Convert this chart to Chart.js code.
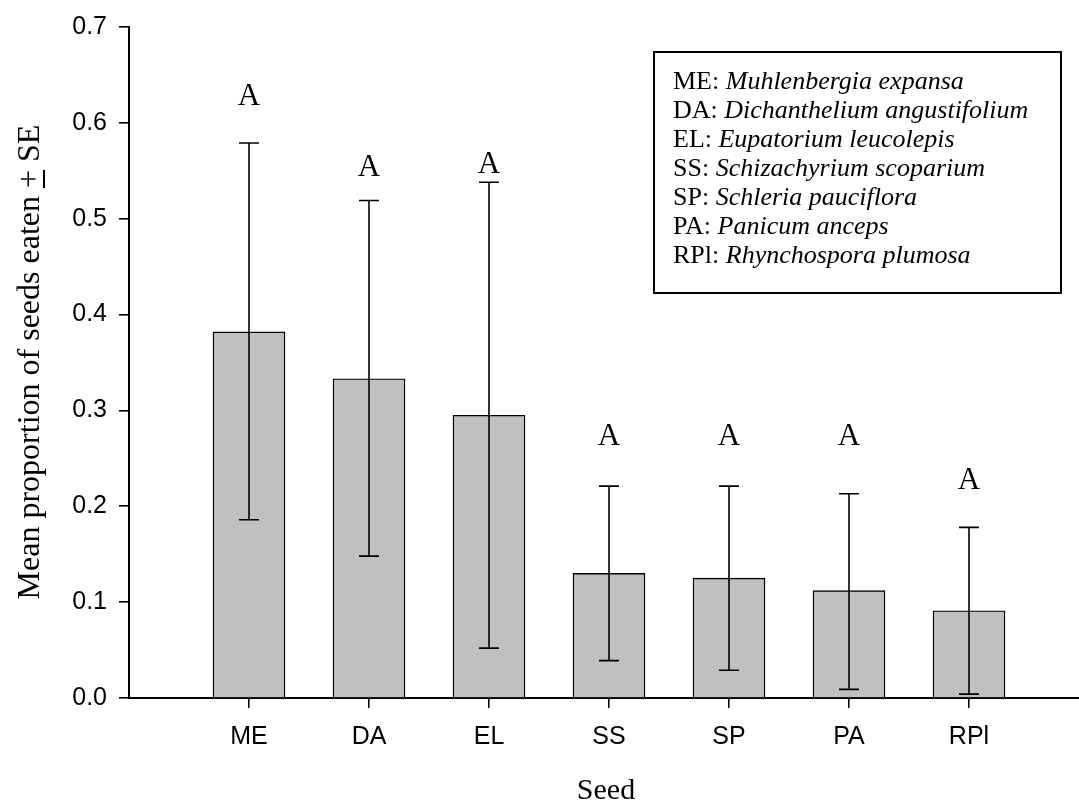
<!DOCTYPE html>
<html>
<head>
<meta charset="utf-8">
<script src="https://cdn.jsdelivr.net/npm/chart.js@4.4.1/dist/chart.umd.min.js"></script>
<style>
  html, body { margin: 0; padding: 0; background: #fff; }
  #wrap { width: 1079px; height: 806px; }
</style>
</head>
<body>
<div id="wrap"><canvas id="seedChart" width="1079" height="806"></canvas></div>
<script>
// data
const seedCodes = ['ME', 'DA', 'EL', 'SS', 'SP', 'PA', 'RPl'];
const seedPositions = [1, 2, 3, 4, 5, 6, 7];
const meanEaten = [0.382, 0.333, 0.295, 0.130, 0.125, 0.112, 0.091];
const seUpper = [0.579, 0.519, 0.538, 0.221, 0.221, 0.213, 0.178];
const seLower = [0.186, 0.148, 0.052, 0.039, 0.029, 0.009, 0.004];
const groupLetters = ['A', 'A', 'A', 'A', 'A', 'A', 'A'];
const letterHeights = [0.627, 0.553, 0.556, 0.272, 0.272, 0.272, 0.227];
const yTicks = [0, 0.1, 0.2, 0.3, 0.4, 0.5, 0.6, 0.7];

const speciesCodes = ['ME', 'DA', 'EL', 'SS', 'SP', 'PA', 'RPl'];
const speciesNames = [
    'Muhlenbergia expansa',
    'Dichanthelium angustifolium',
    'Eupatorium leucolepis',
    'Schizachyrium scoparium',
    'Schleria pauciflora',
    'Panicum anceps',
    'Rhynchospora plumosa'
];

const SANS = '"Liberation Sans", Arial, sans-serif';
const SERIF = '"Liberation Serif", "Times New Roman", serif';

// error bars + letters above bars
const errorBarPlugin = {
    id: 'errorBars',
    afterDatasetsDraw(chart) {
        const ctx = chart.ctx;
        const x = chart.scales.x, y = chart.scales.y;
        ctx.save();
        ctx.strokeStyle = '#000';
        ctx.lineWidth = 1.6;
        seedPositions.forEach((pos, i) => {
            const px = x.getPixelForValue(pos);
            const top = y.getPixelForValue(seUpper[i]);
            const bot = y.getPixelForValue(seLower[i]);
            ctx.beginPath();
            ctx.moveTo(px, top); ctx.lineTo(px, bot);
            ctx.moveTo(px - 10, top); ctx.lineTo(px + 10, top);
            ctx.moveTo(px - 10, bot); ctx.lineTo(px + 10, bot);
            ctx.stroke();
        });
        ctx.fillStyle = '#000';
        ctx.font = '31px ' + SERIF;
        ctx.textAlign = 'center';
        ctx.textBaseline = 'middle';
        seedPositions.forEach((pos, i) => {
            ctx.fillText(groupLetters[i], x.getPixelForValue(pos), y.getPixelForValue(letterHeights[i]));
        });
        ctx.restore();
    }
};

// axis titles and the species key box
const decorPlugin = {
    id: 'decor',
    afterDraw(chart) {
        const ctx = chart.ctx;
        ctx.save();
        ctx.fillStyle = '#000';

        // x title
        ctx.font = '30px ' + SERIF;
        ctx.textAlign = 'center';
        ctx.textBaseline = 'alphabetic';
        ctx.fillText('Seed', 606, 799);

        // y title, with the underlined plus
        ctx.save();
        ctx.translate(39, 362);
        ctx.rotate(-Math.PI / 2);
        ctx.font = '32px ' + SERIF;
        ctx.textBaseline = 'alphabetic';
        const p1 = 'Mean proportion of seeds eaten ';
        const p2 = '+';
        const p3 = ' SE';
        const w1 = ctx.measureText(p1).width;
        const w2 = ctx.measureText(p2).width;
        const w3 = ctx.measureText(p3).width;
        let cx = -(w1 + w2 + w3) / 2;
        ctx.textAlign = 'left';
        ctx.fillText(p1, cx, 0);
        ctx.fillText(p2, cx + w1, 0);
        ctx.fillRect(cx + w1, 4, w2, 2);
        ctx.fillText(p3, cx + w1 + w2, 0);
        ctx.restore();

        // key box
        ctx.strokeStyle = '#000';
        ctx.lineWidth = 2;
        ctx.strokeRect(654, 52, 407, 241);
        ctx.textAlign = 'left';
        ctx.textBaseline = 'middle';
        speciesCodes.forEach((code, i) => {
            const ty = 82 + i * 29;
            ctx.font = '26px ' + SERIF;
            const lead = code + ': ';
            ctx.fillText(lead, 673, ty);
            const lw = ctx.measureText(lead).width;
            ctx.font = 'italic 26px ' + SERIF;
            ctx.fillText(speciesNames[i], 673 + lw, ty);
        });
        ctx.restore();
    }
};

new Chart(document.getElementById('seedChart'), {
    type: 'bar',
    data: {
        datasets: [{
            data: seedPositions.map((p, i) => ({ x: p, y: meanEaten[i] })),
            backgroundColor: '#c0c0c0',
            borderColor: '#000',
            borderWidth: 1.4,
            barThickness: 72
        }]
    },
    options: {
        responsive: false,
        animation: false,
        layout: { padding: { top: 26, right: 0, bottom: 0, left: 0 } },
        plugins: { legend: { display: false }, tooltip: { enabled: false } },
        scales: {
            x: {
                type: 'linear',
                offset: false,
                min: 0,
                max: (1079 - 129) / 120,
                afterBuildTicks(scale) {
                    scale.ticks = seedPositions.map(v => ({ value: v }));
                },
                afterFit(scale) { scale.height = 108; },
                ticks: {
                    color: '#000',
                    font: { family: SANS, size: 25 },
                    padding: 14,
                    maxRotation: 0,
                    autoSkip: false,
                    callback: (v) => seedCodes[seedPositions.indexOf(v)] ?? ''
                },
                grid: { offset: false, drawOnChartArea: false, drawTicks: true, tickLength: 10, color: '#000', lineWidth: 1.6 },
                border: { display: true, color: '#000', width: 2 }
            },
            y: {
                min: 0,
                max: 0.7,
                afterBuildTicks(scale) {
                    scale.ticks = yTicks.map(v => ({ value: v }));
                },
                afterFit(scale) { scale.width = 129; },
                ticks: {
                    color: '#000',
                    font: { family: SANS, size: 25 },
                    padding: 12,
                    callback: (v) => v.toFixed(1)
                },
                grid: { drawOnChartArea: false, drawTicks: true, tickLength: 10, color: '#000', lineWidth: 1.6 },
                border: { display: true, color: '#000', width: 2 }
            }
        }
    },
    plugins: [errorBarPlugin, decorPlugin]
});
</script>
</body>
</html>
